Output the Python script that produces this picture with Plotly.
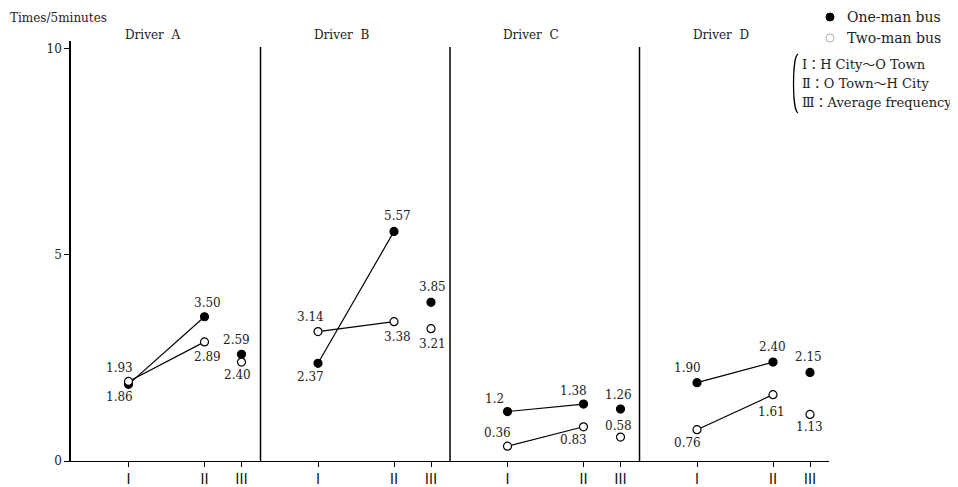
import plotly.graph_objects as go
from plotly.subplots import make_subplots

# ---------------- data ----------------
drivers = ["Driver A", "Driver B", "Driver C", "Driver D"]
stages = ["Ⅰ", "Ⅱ", "Ⅲ"]

# values at stages I, II, III for each driver
one_man_bus = [[1.86, 3.50, 2.59], [2.37, 5.57, 3.85], [1.20, 1.38, 1.26], [1.90, 2.40, 2.15]]
two_man_bus = [[1.93, 2.89, 2.40], [3.14, 3.38, 3.21], [0.36, 0.83, 0.58], [0.76, 1.61, 1.13]]

one_man_labels = [["1.86", "3.50", "2.59"], ["2.37", "5.57", "3.85"], ["1.2", "1.38", "1.26"], ["1.90", "2.40", "2.15"]]
two_man_labels = [["1.93", "2.89", "2.40"], ["3.14", "3.38", "3.21"], ["0.36", "0.83", "0.58"], ["0.76", "1.61", "1.13"]]

y_ticks = [0, 5, 10]
y_title = "Times/5minutes"
legend_series = ["One-man bus", "Two-man bus"]
legend_routes = ["Ⅰ：H City～O Town", "Ⅱ：O Town～H City", "Ⅲ：Average frequency"]

# ---------------- layout / style ----------------
BODY = 8                                # default HTML body margin
W, H = 958 - BODY, 487 - BODY           # figure size so nothing overflows the window
L, R, T, B = 71, 829, 41, 461           # plot area in window pixels
stage_pos = [57.5, 133.5, 170.5]        # px from panel left
panel_w = (R - L) / 4
FONT = "DejaVu Serif, Noto Sans CJK JP, serif"
CJK = "Noto Sans CJK JP, DejaVu Serif, serif"

# label pixel offsets (dx, dy screen px) per driver, per stage
one_off = [[(-9, 13), (3, -14), (-5, -14)], [(-8, 14), (3, -15), (1, -15)],
           [(-13, -13), (-10, -13), (-2, -14)], [(-10, -15), (-1, -15), (-2, -15)]]
two_off = [[(-9, -13), (3, 15), (-4, 13)], [(-8, -15), (3, 15), (1, 15)],
           [(-10, -13), (-10, 13), (-2, -11)], [(-10, 13), (-2, 17), (-1, 13)]]


def px(x):
    return (x - L) / (R - L)


def py(y):
    return (B - y) / (B - T)


fig = make_subplots(rows=1, cols=4, horizontal_spacing=0, shared_yaxes=True)

annotations = []
for i, drv in enumerate(drivers):
    col = i + 1
    for vals, labs, offs, filled in ((one_man_bus[i], one_man_labels[i], one_off[i], True),
                                      (two_man_bus[i], two_man_labels[i], two_off[i], False)):
        mk = dict(size=8, color="black" if filled else "white",
                  line=dict(color="black", width=1.2))
        # I -> II connected
        fig.add_trace(go.Scatter(x=stage_pos[:2], y=vals[:2], mode="lines+markers",
                                 line=dict(color="black", width=1.2), marker=mk,
                                 showlegend=False, hoverinfo="skip"), row=1, col=col)
        # III standalone
        fig.add_trace(go.Scatter(x=stage_pos[2:], y=vals[2:], mode="markers", marker=mk,
                                 showlegend=False, hoverinfo="skip"), row=1, col=col)
        xr = "x" if col == 1 else f"x{col}"
        for k in range(3):
            dx, dy = offs[k]
            annotations.append(dict(x=stage_pos[k], y=vals[k], xref=xr, yref="y",
                                    text=labs[k], showarrow=False, xshift=dx, yshift=-dy,
                                    font=dict(family=FONT, size=12, color="#222")))
    # panel title
    title_cx = L + i * panel_w + 81
    annotations.append(dict(x=px(title_cx), y=py(35), xref="paper", yref="paper",
                            text=drv.replace(" ", "\u00a0 "), showarrow=False,
                            xanchor="center", yanchor="middle",
                            font=dict(family=FONT, size=12, color="#222")))

# y-axis title
annotations.append(dict(x=px(8), y=py(18), xref="paper", yref="paper", text=y_title,
                        showarrow=False, xanchor="left", yanchor="middle",
                        font=dict(family=FONT, size=12, color="#222")))

# legend texts
for txt, yy in zip(legend_series, [17, 38]):
    annotations.append(dict(x=px(845), y=py(yy), xref="paper", yref="paper", text=txt,
                            showarrow=False, xanchor="left", yanchor="middle",
                            font=dict(family=FONT, size=14, color="#222")))
for txt, yy in zip(legend_routes, [64, 83, 102]):
    annotations.append(dict(x=px(800), y=py(yy), xref="paper", yref="paper", text=txt,
                            showarrow=False, xanchor="left", yanchor="middle",
                            font=dict(family=FONT, size=13, color="#222")))

shapes = []
# panel dividers
for i in range(1, 4):
    shapes.append(dict(type="line", xref="paper", yref="paper", x0=i / 4, x1=i / 4,
                       y0=0, y1=py(47), line=dict(color="black", width=1.5)))
# legend symbols
r = 4
shapes.append(dict(type="circle", xref="paper", yref="paper",
                   x0=px(830 - r), x1=px(830 + r), y0=py(17 + r), y1=py(17 - r),
                   fillcolor="black", line=dict(color="black", width=1)))
shapes.append(dict(type="circle", xref="paper", yref="paper",
                   x0=px(830 - r), x1=px(830 + r), y0=py(38 + r), y1=py(38 - r),
                   fillcolor="white", line=dict(color="#b0b0b0", width=1)))
# bracket
x_top, x_ctl = px(798), px(792)
shapes.append(dict(type="path", xref="paper", yref="paper",
                   path=f"M {x_top},{py(54)} C {x_ctl},{py(57)} {x_ctl},{py(110)} {x_top},{py(113)}",
                   line=dict(color="black", width=1.2)))

for c in range(1, 5):
    fig.update_xaxes(range=[0, panel_w], tickvals=stage_pos, ticktext=stages,
                     ticks="outside", ticklen=5, tickcolor="black", showline=True,
                     linecolor="black", linewidth=1.2, showgrid=False, zeroline=False,
                     fixedrange=True, automargin=False,
                     tickfont=dict(family=CJK, size=14, color="#111"), row=1, col=c)
fig.update_yaxes(range=[0, 10.19], showgrid=False, zeroline=False, automargin=False)
fig.update_yaxes(tickvals=y_ticks, ticks="outside", ticklen=5, tickcolor="black",
                 showline=True, linecolor="black", linewidth=1.5,
                 tickfont=dict(family=FONT, size=12, color="#222"), row=1, col=1)
for c in range(2, 5):
    fig.update_yaxes(showticklabels=False, ticks="", showline=False, row=1, col=c)

fig.update_layout(width=W, height=H,
                  margin=dict(l=L - BODY, r=W - (R - BODY), t=T - BODY, b=H - (B - BODY)),
                  paper_bgcolor="white", plot_bgcolor="white",
                  annotations=annotations, shapes=shapes, showlegend=False,
                  font=dict(family=FONT, color="#222"))

fig.write_html("out.html")
